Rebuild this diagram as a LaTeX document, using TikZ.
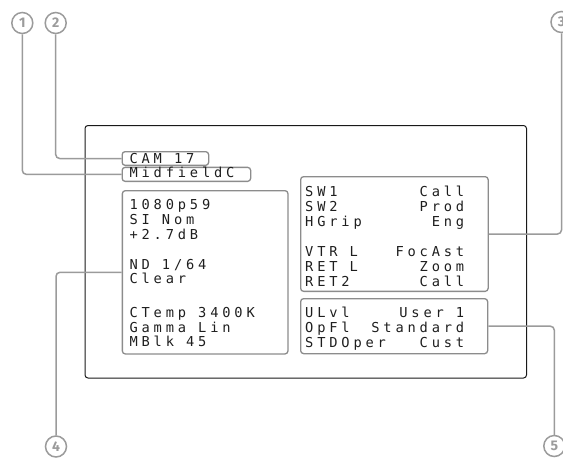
\documentclass[tikz,border=0pt]{standalone}
\usepackage{fontspec}
\usetikzlibrary{calc}

\newfontfamily\osdfont{DejaVu Sans Mono}[LetterSpace=28]
\newfontfamily\calloutfont{Fira Sans}
% one cell wide word space for the tracked mono font
\newcommand\osdsize{\fontsize{13.7}{14.8}\selectfont
  \spaceskip=12.1pt\relax \xspaceskip=12.1pt\relax}

\definecolor{leadcol}{RGB}{155, 155, 155}
\definecolor{panelcol}{RGB}{140, 140, 140}
\definecolor{framecol}{RGB}{25, 25, 25}
\definecolor{osdcol}{RGB}{30, 30, 30}

\begin{document}
\begin{tikzpicture}[x=1pt, y=-1pt,
    panel/.style={draw=panelcol, line width=1.3pt, rounded corners=3pt, inner sep=0pt, anchor=north west},
    osd/.style={font=\osdfont\osdsize, text=osdcol, inner sep=0pt, anchor=north west,
      align=left, execute at begin node={\osdsize\rule{0pt}{12pt}}},
    leader/.style={draw=leadcol, line width=1.5pt, rounded corners=4pt},
    callout/.style={circle, draw=leadcol, line width=1.5pt, minimum size=21pt, inner sep=0pt, text=leadcol,
      font=\calloutfont\bfseries\fontsize{14}{14}\selectfont}]
        \useasboundingbox (0,0) rectangle (563,458);

        % Screen frame
        \draw[framecol, line width=1pt, rounded corners=3pt] (85,125.5) rectangle (526.5,378);

        % Panels
        \node[panel, minimum width=86.5pt, minimum height=13.7pt] (cam) at (121.5,151) {};
        \node[panel, minimum width=128.5pt, minimum height=14pt] (mid) at (121.5,166.7) {};
        \node[panel, minimum width=165.6pt, minimum height=163.3pt] (lpanel) at (121.7,190) {};
        \node[panel, minimum width=187.5pt, minimum height=114.7pt] (rtpanel) at (300,176) {};
        \node[panel, minimum width=187pt, minimum height=55pt] (rbpanel) at (300,298) {};

        % Panel texts
        \node[osd] (camtxt) at (129.3,151.3) {CAM 17};
        \node[osd] (midtxt) at (129.3,165.3) {MidfieldC};
        \node[osd, text width=150pt] (ltxt) at (129.3,197.3) {1080p59\\SI Nom\\+2.7dB\\[15.2pt]ND 1/64\\Clear\\[18.6pt]CTemp 3400K\\Gamma Lin\\MBlk 45};
        \node[osd, text width=159pt] (rttxt) at (305,184.7) {SW1\hfill Call\\SW2\hfill Prod\\HGrip\hfill Eng\\[15.2pt]VTR L\hfill FocAst\\RET L\hfill Zoom\\RET2\hfill Call};
        \node[osd, text width=159pt] (rbtxt) at (305,305.3) {ULvl\hfill User 1\\OpFl\hfill Standard\\STDOper\hfill Cust};

        % Callouts
        \node[callout] (c1) at (22.3,23) {1};
        \node[callout] (c2) at (55.7,23) {2};
        \node[callout] (c3) at (561.5,22) {3};
        \node[callout] (c4) at (56,446.5) {4};
        \node[callout] (c5) at (554.3,446) {5};

        % Leaders
        \draw[leader] (c1.south) |- (mid.west);
        \draw[leader] (c2.south) |- (cam.west);
        \draw[leader] (c3.south) |- (rtpanel.east);
        \draw[leader] (c4.north) |- (lpanel.west);
        \draw[leader] (c5.north) |- (rbpanel.east);
      \end{tikzpicture}
\end{document}
